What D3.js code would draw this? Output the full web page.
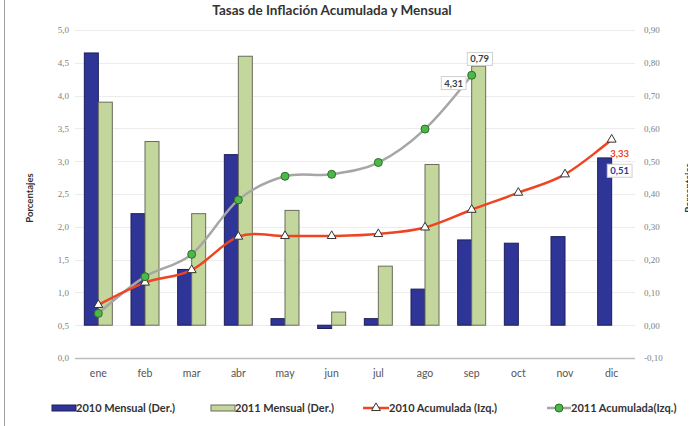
<!DOCTYPE html>
<html>
<head>
<meta charset="utf-8">
<script src="https://cdn.jsdelivr.net/npm/d3@7"></script>
<style>
  body { margin: 0; background: #fff; }
  svg { display: block; }
</style>
</head>
<body>
<svg id="chart" width="699" height="426"></svg>
<script>
//  data
const months = ["ene", "feb", "mar", "abr", "may", "jun", "jul", "ago", "sep", "oct", "nov", "dic"];
const mensual_2010 = [0.83, 0.34, 0.17, 0.52, 0.02, -0.01, 0.02, 0.11, 0.26, 0.25, 0.27, 0.51];
const mensual_2011 = [0.68, 0.56, 0.34, 0.82, 0.35, 0.04, 0.18, 0.49, 0.79];
const acum_2010 = [0.81, 1.15, 1.34, 1.85, 1.86, 1.86, 1.89, 1.99, 2.26, 2.52, 2.80, 3.33];
const acum_2011 = [0.68, 1.24, 1.58, 2.41, 2.77, 2.80, 2.98, 3.49, 4.31];
const left_ticks = [0, 0.5, 1, 1.5, 2, 2.5, 3, 3.5, 4, 4.5, 5];
const right_ticks = [-0.1, 0, 0.1, 0.2, 0.3, 0.4, 0.5, 0.6, 0.7, 0.8, 0.9];

const fmt = (d, n) => d.toFixed(n).replace(".", ",");

//  draw chart
function draw_chart() {
  const margin = ({top: 30, right: 64, bottom: 68, left: 75});
  const w = 699, h = 426;
  const svg = d3.select("#chart");

  const x = d3.scaleBand().domain(months)
    .range([margin.left, w - margin.right])
    .paddingInner(0.4).paddingOuter(0.2);
  const yL = d3.scaleLinear().domain([0, 5]).range([h - margin.bottom, margin.top]);
  const yR = d3.scaleLinear().domain([-0.1, 0.9]).range([h - margin.bottom, margin.top]);
  const bw = x.bandwidth() / 2;

  //  frame line on the left
  svg.append("line")
    .attr("x1", 4.5).attr("x2", 4.5).attr("y1", 0).attr("y2", h)
    .attr("stroke", "#a0a0a0").attr("stroke-width", 1);

  //  grid
  svg.append("g").selectAll("line").data(left_ticks).join("line")
    .attr("x1", margin.left).attr("x2", w - margin.right)
    .attr("y1", d => Math.round(yL(d)) + 0.5).attr("y2", d => Math.round(yL(d)) + 0.5)
    .attr("stroke", d => d == 0 ? "#bdbdbd" : "#ececec")
    .attr("stroke-width", d => d == 0 ? 1.5 : 1);

  //  axes (left / right)
  const axL = svg.append("g")
    .attr("transform", `translate(${margin.left - 6},0)`)
    .call(d3.axisLeft(yL).tickValues(left_ticks).tickFormat(d => fmt(d, 1)).tickSize(0).tickPadding(0));
  const axR = svg.append("g")
    .attr("transform", `translate(${w - margin.right + 9},0)`)
    .call(d3.axisRight(yR).tickValues(right_ticks).tickFormat(d => fmt(d, 2)).tickSize(0).tickPadding(0));
  [axL, axR].forEach(a => {
    a.select(".domain").remove();
    a.selectAll("text")
      .style("font-family", "'Liberation Serif', 'DejaVu Serif', serif")
      .style("font-size", "9px")
      .attr("fill", "#808080");
  });

  const axX = svg.append("g")
    .attr("transform", `translate(0,${h - margin.bottom + 10})`)
    .call(d3.axisBottom(x).tickSize(0).tickPadding(0));
  axX.select(".domain").remove();
  axX.selectAll("text")
    .style("font-family", "Lato, 'Open Sans', sans-serif")
    .style("font-size", "10.5px")
    .attr("fill", "#555")
    .attr("dy", "0.9em");

  //  bars
  svg.append("g").selectAll("rect").data(mensual_2010).join("rect")
    .attr("x", (d, i) => x(months[i]))
    .attr("y", d => yR(Math.max(0, d)))
    .attr("width", bw)
    .attr("height", d => Math.abs(yR(d) - yR(0)))
    .attr("fill", "#2f3596")
    .attr("stroke", "#1c1f5a").attr("stroke-width", 1);

  svg.append("g").selectAll("rect").data(mensual_2011).join("rect")
    .attr("x", (d, i) => x(months[i]) + bw)
    .attr("y", d => yR(Math.max(0, d)))
    .attr("width", bw)
    .attr("height", d => Math.abs(yR(d) - yR(0)))
    .attr("fill", "#c3d69b")
    .attr("stroke", "#6b6b5e").attr("stroke-width", 1);

  //  lines
  const cx = i => x(months[i]) + bw;
  const line = d3.line().x((d, i) => cx(i)).y(d => yL(d)).curve(d3.curveCatmullRom.alpha(0));

  svg.append("path").datum(acum_2011)
    .attr("d", line).attr("fill", "none")
    .attr("stroke", "#a6a6a6").attr("stroke-width", 2.5);

  svg.append("path").datum(acum_2010)
    .attr("d", line).attr("fill", "none")
    .attr("stroke", "#ee4422").attr("stroke-width", 2.5);

  const tri = d3.symbol().type(d3.symbolTriangle).size(34);
  svg.append("g").selectAll("path").data(acum_2010).join("path")
    .attr("d", tri)
    .attr("transform", (d, i) => `translate(${cx(i)},${yL(d)})`)
    .attr("fill", "#fff").attr("stroke", "#333").attr("stroke-width", 1);

  svg.append("g").selectAll("circle").data(acum_2011).join("circle")
    .attr("cx", (d, i) => cx(i)).attr("cy", d => yL(d)).attr("r", 4)
    .attr("fill", "#4cb848").attr("stroke", "#2d6e2a").attr("stroke-width", 1);

  //  data labels
  function box_label(text, cxp, cyp, color, boxed) {
    const g = svg.append("g");
    const t = g.append("text")
      .attr("x", cxp).attr("y", cyp).attr("dy", "0.35em")
      .attr("text-anchor", "middle")
      .style("font-family", "Lato, 'Open Sans', sans-serif")
      .style("font-size", "9.5px").style("font-weight", "bold")
      .attr("fill", color).text(text);
    if (boxed) {
      const b = t.node().getBBox();
      g.insert("rect", "text")
        .attr("x", b.x - 3).attr("y", b.y - 1)
        .attr("width", b.width + 6).attr("height", b.height + 2)
        .attr("fill", "#fff").attr("stroke", "#d0d0d0").attr("stroke-width", 1);
    }
  }
  const last11 = acum_2011.length - 1;
  box_label(fmt(acum_2011[last11], 2), cx(last11) - 18, yL(acum_2011[last11]) + 8, "#404040", true);
  box_label(fmt(mensual_2011[last11], 2), cx(last11) + 8, yR(mensual_2011[last11]) - 7, "#404040", true);
  box_label(fmt(acum_2010[11], 2), cx(11) + 8, yL(acum_2010[11]) + 14, "#ee4422", false);
  box_label(fmt(mensual_2010[11], 2), cx(11) + 8, yR(mensual_2010[11]) + 13, "#2f3596", true);

  //  title
  svg.append("text")
    .attr("x", 332).attr("y", 15).attr("text-anchor", "middle")
    .style("font-family", "Lato, 'Open Sans', sans-serif")
    .style("font-size", "13.5px").style("font-weight", "bold")
    .attr("fill", "#333").text("Tasas de Inflación Acumulada y Mensual");

  //  axis titles
  svg.append("text")
    .attr("transform", "translate(33,198) rotate(-90)")
    .attr("text-anchor", "middle")
    .style("font-family", "Lato, 'Open Sans', sans-serif")
    .style("font-size", "9.5px").style("font-weight", "bold")
    .attr("fill", "#333").text("Porcentajes");

  svg.append("clipPath").attr("id", "clipR")
    .append("rect").attr("x", 600).attr("y", 0).attr("width", 88).attr("height", h);
  svg.append("g").attr("clip-path", "url(#clipR)")
    .append("text")
    .attr("transform", "translate(692,188) rotate(-90)")
    .attr("text-anchor", "middle")
    .style("font-family", "Lato, 'Open Sans', sans-serif")
    .style("font-size", "9.5px").style("font-weight", "bold")
    .attr("fill", "#333").text("Porcentajes");

  //  legend
  const ly = 408;
  const legend_font = t => t
    .style("font-family", "Lato, 'Open Sans', sans-serif")
    .style("font-size", "11px").style("font-weight", "bold")
    .attr("fill", "#333").attr("dy", "0.35em");

  svg.append("rect").attr("x", 52).attr("y", ly - 3).attr("width", 24).attr("height", 6)
    .attr("fill", "#2f3596").attr("stroke", "#1c1f5a");
  svg.append("text").attr("x", 76).attr("y", ly).call(legend_font).text("2010 Mensual (Der.)");

  svg.append("rect").attr("x", 211).attr("y", ly - 3).attr("width", 24).attr("height", 6)
    .attr("fill", "#c3d69b").attr("stroke", "#6b6b5e");
  svg.append("text").attr("x", 235).attr("y", ly).call(legend_font).text("2011 Mensual (Der.)");

  svg.append("line").attr("x1", 363).attr("x2", 389).attr("y1", ly).attr("y2", ly)
    .attr("stroke", "#ee4422").attr("stroke-width", 2.5);
  svg.append("path").attr("d", tri).attr("transform", `translate(376,${ly})`)
    .attr("fill", "#fff").attr("stroke", "#333");
  svg.append("text").attr("x", 389).attr("y", ly).call(legend_font).text("2010 Acumulada (Izq.)");

  svg.append("line").attr("x1", 547).attr("x2", 571).attr("y1", ly).attr("y2", ly)
    .attr("stroke", "#a6a6a6").attr("stroke-width", 2.5);
  svg.append("circle").attr("cx", 559).attr("cy", ly).attr("r", 4)
    .attr("fill", "#4cb848").attr("stroke", "#2d6e2a");
  svg.append("text").attr("x", 571).attr("y", ly).call(legend_font).text("2011 Acumulada(Izq.)");
}

draw_chart();
</script>
</body>
</html>
